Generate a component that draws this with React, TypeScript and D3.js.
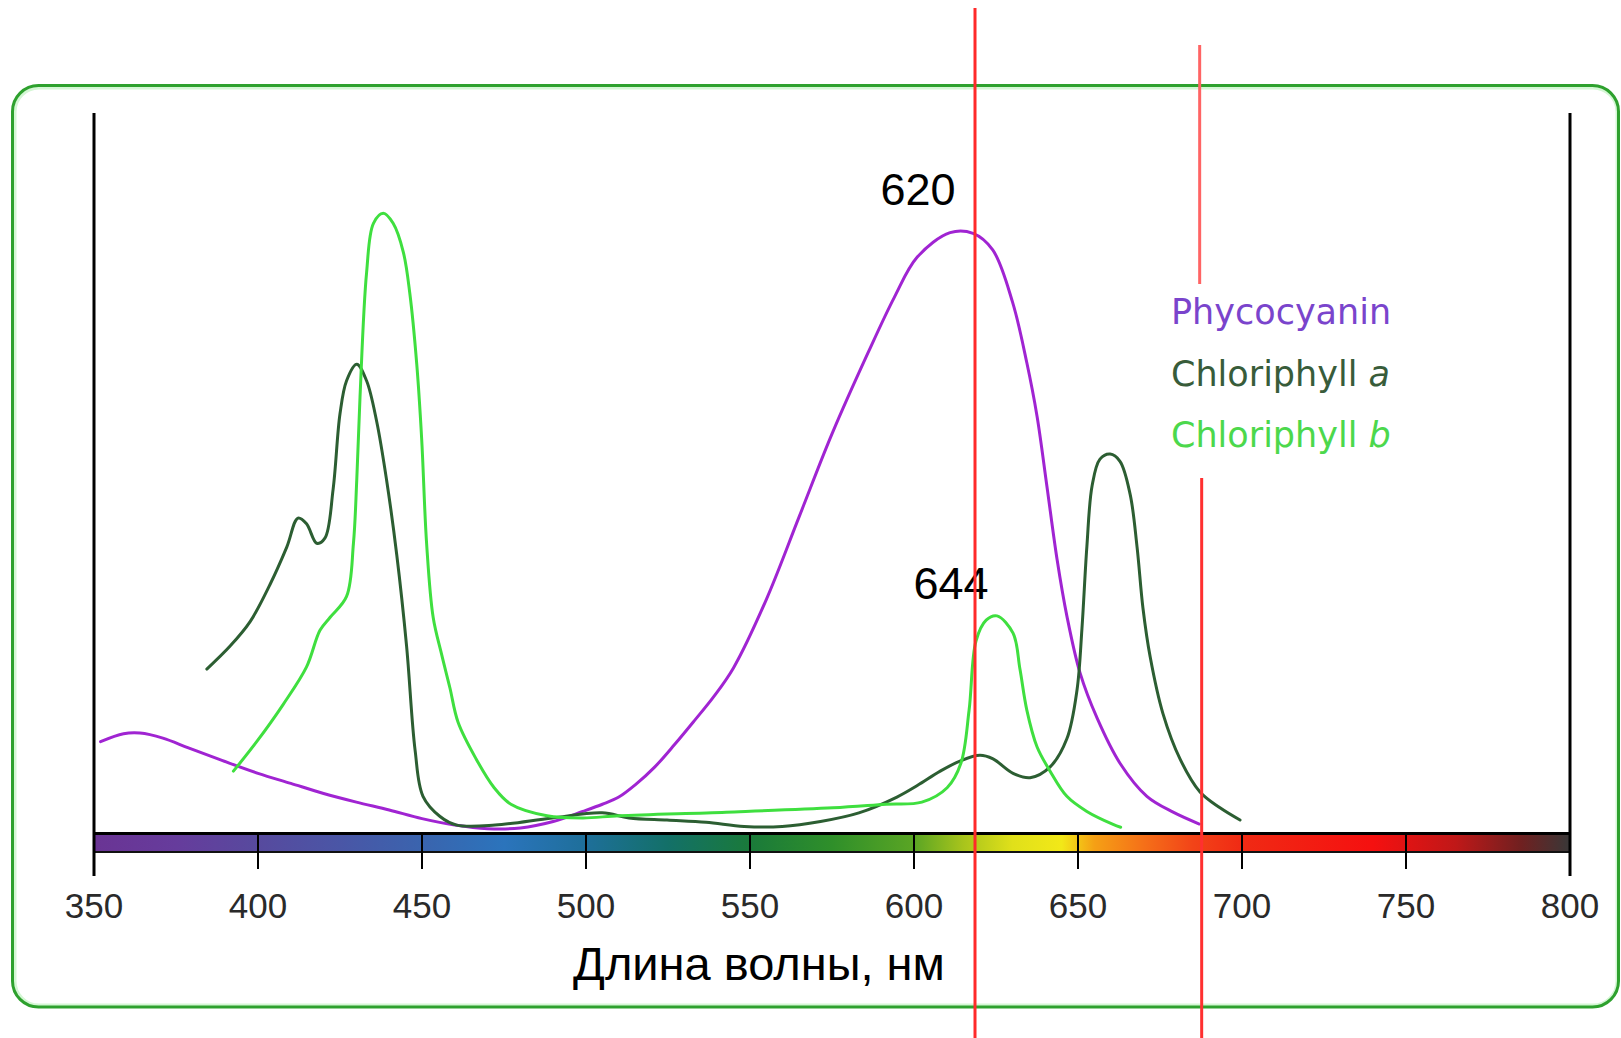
import React from "react";
import * as d3 from "d3";

// ---- data ----
const wavelengthTicks = [350, 400, 450, 500, 550, 600, 650, 700, 750, 800];

const phycocyanin: [number, number][] = [
  [352, 12.7], [359, 13.8], [364, 13.9], [371, 13.2], [379, 11.8], [389, 10.1], [400, 8.3],
  [410, 6.9], [420, 5.5], [430, 4.3], [440, 3.2], [450, 2.0], [460, 1.1], [470, 0.6],
  [480, 0.7], [490, 1.6], [499, 3.0], [505, 4.0], [510, 5.0], [515, 6.7], [521, 9.2],
  [527, 12.3], [533, 15.6], [539, 19.0], [545, 23.0], [555, 32.5], [565, 44.0], [575, 55.5],
  [586, 66.8], [594, 74.5], [601, 80.1], [611, 83.5], [618, 83.4], [624, 81.1], [630, 73.9],
  [634.4, 65.4], [637.5, 58.0], [640.5, 48.3], [643.6, 38.1], [646.6, 30.2], [650.6, 22.3],
  [655.8, 16.0], [662.8, 9.7], [671, 5.1], [679, 2.9], [687, 1.25],
];

const chlorophyllA: [number, number][] = [
  [384.4, 22.8], [391.5, 26.0], [397.6, 29.4], [403.7, 34.6], [408.8, 39.8], [412.2, 43.8],
  [414.8, 43.0], [417.9, 40.3], [420.4, 41.0], [422.9, 47.8], [425, 58.3], [427, 62.9],
  [430.1, 65.2], [433.1, 62.9], [436.2, 57.2], [439.2, 49.1], [442.3, 38.7], [445.3, 26.0],
  [447.9, 11.5], [450.3, 5.1], [455.5, 2.3], [460.6, 1.1], [472.3, 1.1], [489.7, 2.1],
  [504.9, 2.8], [513.1, 2.1], [524.7, 1.8], [536.6, 1.5], [548.2, 0.9], [559.8, 0.9],
  [571.5, 1.6], [583.2, 2.8], [594.8, 5.0], [601, 6.6], [608, 8.6], [614, 10.0],
  [620.1, 10.8], [624.1, 10.3], [630.2, 8.3], [635.4, 7.7], [641.5, 9.2],
  [646.6, 13.1], [649.7, 19.9], [651.2, 28.4], [652.7, 39.8], [654.3, 48.3], [656.7, 52.0],
  [659.8, 52.7], [662.8, 51.7], [665.9, 47.1], [668, 39.8], [669.8, 31.3], [672, 24.5],
  [675.9, 16.6], [681.1, 10.3], [687.2, 5.7], [693.3, 3.5], [699.4, 1.8],
];

const chlorophyllB: [number, number][] = [
  [392.5, 8.6], [399.6, 12.7], [407.7, 17.9], [414.8, 23.1], [418.9, 28.2], [422, 30.0],
  [427, 32.9], [429.1, 40.3], [430.1, 49.0], [431.1, 60.6], [433.1, 77.9], [435.2, 84.8],
  [438.2, 86.2], [441.2, 84.8], [444.3, 80.8], [446.3, 75.0], [448.4, 65.2], [449.9, 54.8],
  [451.4, 40.3], [453.4, 30.0], [456, 24.8], [458.5, 20.2], [461, 15.4], [466.5, 10.3],
  [472, 6.3], [477.1, 4.0], [488.1, 2.4], [499.1, 2.1], [510.1, 2.4], [542.7, 2.9],
  [575.3, 3.5], [591.5, 4.0], [602.4, 4.3], [610.1, 6.3], [614.3, 9.7], [616.8, 17.1],
  [618.9, 26.7], [622, 29.6], [625.3, 30.2], [630.2, 27.8], [632.3, 22.8], [634.4, 17.1],
  [637.5, 12.0], [641.5, 8.6], [646.6, 5.1], [652.7, 3.0], [660.7, 1.2], [663, 0.8],
];

const seriesNames = ["Phycocyanin", "Chloriphyll", "Chloriphyll"];
const seriesSuffix = ["", "a", "b"];
const seriesLineColors = ["#a024d2", "#2c5e32", "#3fdf3f"];
const seriesTextColors = ["#7a44cc", "#385c3a", "#4cd84c"];

const peakLabels = ["620", "644"];
const markerWavelengths = [618.6, 687.4];

const spectrumStops: [number, string][] = [
  [350, "#6a3494"], [375, "#663c9c"], [400, "#574a9e"], [425, "#4a56a6"], [450, "#3a64ae"],
  [475, "#2b74bc"], [500, "#1e6f9a"], [525, "#137068"], [550, "#1a7a3a"], [575, "#2f8f2a"],
  [600, "#5aa524"], [615, "#a8c41c"], [630, "#e0e01a"], [645, "#f2e818"], [655, "#f5a015"],
  [670, "#f57018"], [685, "#f24418"], [700, "#f02a14"], [740, "#f51010"], [765, "#c01818"],
  [785, "#702020"], [800, "#383838"],
];

const xAxisTitle = "Длина волны, нм";

export default function App() {
  const W = 1621;
  const H = 1038;
  const x = d3.scaleLinear().domain([350, 800]).range([94, 1570]);
  const y = d3.scaleLinear().domain([0, 100]).range([833, 114]);

  const line = d3
    .line<[number, number]>()
    .x((d) => x(d[0]))
    .y((d) => y(d[1]))
    .curve(d3.curveCatmullRom.alpha(0.5));

  const series = [phycocyanin, chlorophyllA, chlorophyllB];
  const barTop = 832;
  const barBottom = 853;

  return (
    <svg
      width={W}
      height={H}
      style={{ position: "absolute", left: 0, top: 0, display: "block", background: "#fff" }}
    >
      <defs>
        <linearGradient id="spec" x1="0" x2="1" y1="0" y2="0">
          {spectrumStops.map(([nm, c], i) => (
            <stop key={i} offset={(nm - 350) / 450} stopColor={c} />
          ))}
        </linearGradient>
      </defs>

      {/* outer frame */}
      <rect x={15} y={88} width={1602} height={917} rx={24} ry={24} fill="none" stroke="#d4f7d4" strokeWidth={3} />
      <rect x={12.5} y={85.5} width={1606} height={921.5} rx={26} ry={26} fill="none" stroke="#2ea12e" strokeWidth={3} />

      {/* spectrum bar */}
      <rect x={x(350)} y={barTop} width={x(800) - x(350)} height={barBottom - barTop} fill="url(#spec)" />
      <line x1={x(350)} x2={x(800)} y1={barTop + 1.5} y2={barTop + 1.5} stroke="#000" strokeWidth={3} />
      <line x1={x(350)} x2={x(800)} y1={barBottom - 1} y2={barBottom - 1} stroke="#111" strokeWidth={2} />

      {/* ticks */}
      {wavelengthTicks.map((t) => (
        <line key={"t" + t} x1={x(t)} x2={x(t)} y1={barTop} y2={869} stroke="#000" strokeWidth={2} />
      ))}
      {/* vertical axes */}
      <line x1={x(350)} x2={x(350)} y1={113} y2={876} stroke="#000" strokeWidth={3} />
      <line x1={x(800)} x2={x(800)} y1={113} y2={876} stroke="#000" strokeWidth={3} />

      {/* tick labels */}
      {wavelengthTicks.map((t) => (
        <text
          key={"l" + t}
          x={x(t)}
          y={918}
          textAnchor="middle"
          fontFamily="'Liberation Sans', Arial, sans-serif"
          fontSize={35}
          fill="#2a2a2a"
        >
          {t}
        </text>
      ))}

      {/* axis title */}
      <text
        x={759}
        y={980}
        textAnchor="middle"
        fontFamily="'Liberation Sans', Arial, sans-serif"
        fontSize={47}
        fill="#000"
      >
        {xAxisTitle}
      </text>

      {/* curves */}
      {series.map((s, i) => (
        <path key={"s" + i} d={line(s) || ""} fill="none" stroke={seriesLineColors[i]} strokeWidth={3} strokeLinejoin="round" strokeLinecap="round" />
      ))}

      {/* legend */}
      {seriesNames.map((n, i) => (
        <text
          key={"g" + i}
          x={1171}
          y={324 + i * 61.5}
          fontFamily="'DejaVu Sans', Verdana, sans-serif"
          fontSize={35}
          fill={seriesTextColors[i]}
        >
          {n}
          {seriesSuffix[i] ? <tspan fontStyle="italic">{" " + seriesSuffix[i]}</tspan> : null}
        </text>
      ))}

      {/* peak labels */}
      <text x={x(601.2)} y={y(87.3)} textAnchor="middle" fontFamily="'Liberation Sans', Arial, sans-serif" fontSize={45} fill="#000">
        {peakLabels[0]}
      </text>
      <text x={x(611.3)} y={y(32.5)} textAnchor="middle" fontFamily="'Liberation Sans', Arial, sans-serif" fontSize={45} fill="#000">
        {peakLabels[1]}
      </text>

      {/* red marker lines */}
      <line x1={x(markerWavelengths[0])} x2={x(markerWavelengths[0])} y1={8} y2={H} stroke="#ff2a2a" strokeWidth={3} />
      <line x1={x(markerWavelengths[1]) - 1} x2={x(markerWavelengths[1]) - 1} y1={45} y2={284} stroke="#ff6464" strokeWidth={3} />
      <line x1={x(markerWavelengths[1]) + 1} x2={x(markerWavelengths[1]) + 1} y1={478} y2={H} stroke="#ff3030" strokeWidth={3} />
    </svg>
  );
}
